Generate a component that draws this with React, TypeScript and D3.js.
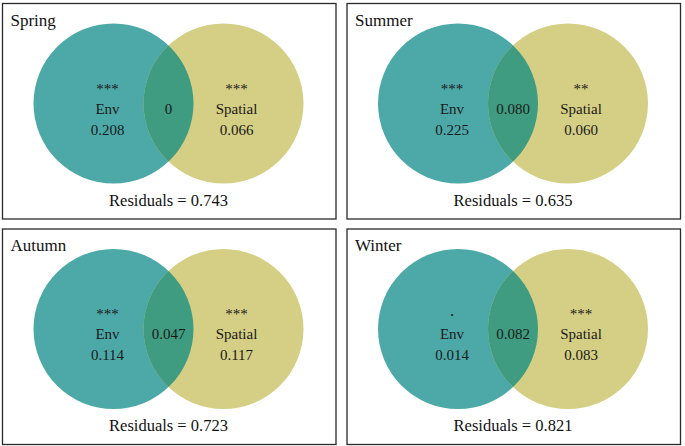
import React from "react";
import * as d3 from "d3";

const seasons = ["Spring", "Summer", "Autumn", "Winter"];
const envValues = ["0.208", "0.225", "0.114", "0.014"];
const spatialValues = ["0.066", "0.060", "0.117", "0.083"];
const sharedValues = ["0", "0.080", "0.047", "0.082"];
const residualValues = ["0.743", "0.635", "0.723", "0.821"];
const envSig = ["***", "***", "***", "·"];
const spatialSig = ["***", "**", "***", "***"];
const setNames = ["Env", "Spatial"];

const W = 685;
const H = 446;
const FONT = "'Liberation Serif', 'Times New Roman', serif";

const colX = d3.scaleOrdinal<number, number>().domain([0, 1]).range([2.5, 347]);
const rowY = d3.scaleOrdinal<number, number>().domain([0, 1]).range([3.5, 229]);

export default function App() {
  const pw = 333.5;
  const ph = 215.5;
  const r = 80;
  const cx1 = 111;
  const cx2 = 221;
  const cy = 100;
  const mid = (cx1 + cx2) / 2;
  return (
    <svg width={W} height={H} style={{ position: "absolute", left: 0, top: 0 }} fontFamily={FONT}>
      <rect x={0} y={0} width={W} height={H} fill="#ffffff" />
      {seasons.map((s, i) => {
        const x0 = colX(i % 2);
        const y0 = rowY(Math.floor(i / 2));
        const clipId = `clip-${i}`;
        return (
          <g key={s} transform={`translate(${x0},${y0})`}>
            <defs>
              <clipPath id={clipId}>
                <circle cx={cx1} cy={cy} r={r} />
              </clipPath>
            </defs>
            <rect x={0} y={0} width={pw} height={ph} fill="#ffffff" stroke="#2a2a2a" strokeWidth={1.3} />
            <circle cx={cx1} cy={cy} r={r} fill="#4DA9A8" />
            <circle cx={cx2} cy={cy} r={r} fill="#D5CF85" />
            <circle cx={cx2} cy={cy} r={r} fill="#3F9C80" clipPath={`url(#${clipId})`} />
            <text x={8} y={22} fontSize={17} fill="#111">{s}</text>
            <g fontSize={15} fill="#1a1a1a" textAnchor="middle">
              <text x={cx1 - 6} y={envSig[i] === "·" ? 92 : 90} fontSize={envSig[i] === "·" ? 17 : 15}>{envSig[i]}</text>
              <text x={cx1 - 6} y={110}>{setNames[0]}</text>
              <text x={cx1 - 6} y={131}>{envValues[i]}</text>
              <text x={mid} y={110}>{sharedValues[i]}</text>
              <text x={cx2 + 13} y={90}>{spatialSig[i]}</text>
              <text x={cx2 + 13} y={110}>{setNames[1]}</text>
              <text x={cx2 + 13} y={131}>{spatialValues[i]}</text>
            </g>
            <text x={mid} y={202} fontSize={16.5} textAnchor="middle" fill="#111">
              {`Residuals = ${residualValues[i]}`}
            </text>
          </g>
        );
      })}
    </svg>
  );
}
